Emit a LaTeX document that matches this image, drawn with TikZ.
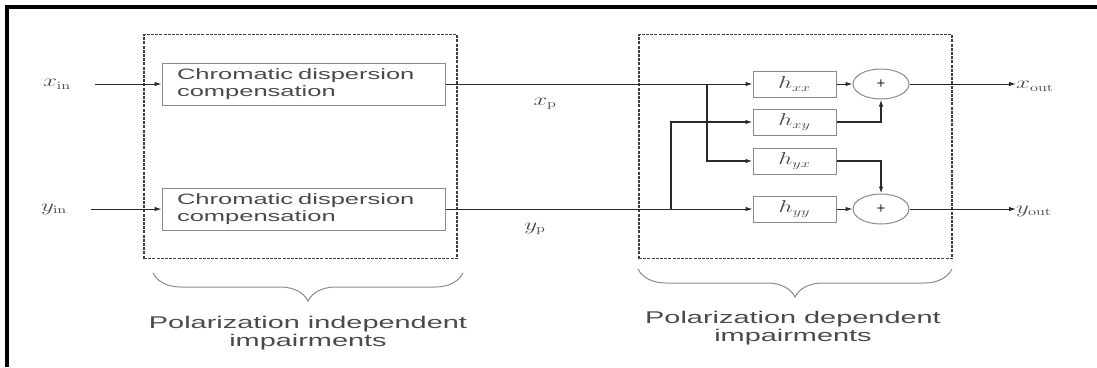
\documentclass[tikz,border=0pt]{standalone}
\usepackage{amsmath}
\usepackage[no-math]{fontspec}
\setmainfont{Liberation Sans}
\newfontfamily\widesans[FakeStretch=1.7]{Liberation Sans}
\usepackage{graphicx}
\usetikzlibrary{arrows.meta,shapes.geometric,decorations.pathreplacing}
\definecolor{wire}{HTML}{2A2A2A}
\definecolor{frame}{HTML}{8A8A8A}
\definecolor{ink}{HTML}{4A4A4A}
\newcommand{\wmath}[1]{\scalebox{1.45}[1]{$#1$}}

\begin{document}
\begin{tikzpicture}[
  x=1pt,y=-1pt,
  sig/.style={draw=wire,line width=1pt},
  arr/.style={sig,-{Latex[length=7pt,width=4.5pt]}},
  cdblock/.style={draw=frame,line width=1pt,text width=253pt,inner xsep=15pt,minimum height=42pt,inner ysep=0pt,align=left,text=ink,font=\widesans\fontsize{15}{17}\selectfont},
  hblock/.style={draw=frame,line width=1pt,minimum width=83pt,minimum height=26pt,inner sep=0pt,text=ink,font=\fontsize{16}{18}\selectfont},
  adder/.style={ellipse,draw=frame,line width=1pt,minimum width=56pt,minimum height=30pt,inner sep=0pt,text=wire,font=\fontsize{15}{16}\selectfont},
  region/.style={draw=wire!90,line width=1.1pt,dash pattern=on 3pt off 1.2pt,minimum width=313pt,minimum height=224pt,inner sep=0pt},
  sigl/.style={text=ink,inner sep=0pt,font=\fontsize{16}{18}\selectfont},
  caption/.style={text=ink,align=center,inner sep=0pt,font=\widesans\fontsize{17}{17.5}\selectfont},
  curly/.style={draw=frame,line width=1pt,decorate,decoration={brace,amplitude=28pt}}
]
  \useasboundingbox (0,0) rectangle (1097,367);
  \draw[line width=4pt,line join=miter] (7,367) -- (7,7) -- (1097,7);

  \node[region] (pib) at (300.5,146.5) {};
  \node[region] (pdb) at (795.5,146.5) {};

  \node[sigl] (xin) at (57,84) {\wmath{x_{\mathrm{in}}}};
  \node[sigl] (yin) at (54,209) {\wmath{y_{\mathrm{in}}}};
  \node[cdblock] (cdx) at (303.5,84) {Chromatic dispersion\\compensation};
  \node[cdblock] (cdy) at (303.5,209) {Chromatic dispersion\\compensation};
  \node[sigl] (xp) at (545,104) {\wmath{x_{\mathrm{p}}}};
  \node[sigl] (yp) at (535,229) {\wmath{y_{\mathrm{p}}}};

  \node[hblock] (hxx) at (794.5,84) {\wmath{h_{xx}}};
  \node[hblock] (hxy) at (794.5,122) {\wmath{h_{xy}}};
  \node[hblock] (hyx) at (794.5,161) {\wmath{h_{yx}}};
  \node[hblock] (hyy) at (794.5,209) {\wmath{h_{yy}}};
  \node[adder] (sumx) at (881,84) {+};
  \node[adder] (sumy) at (881,209) {+};
  \node[sigl,anchor=west] (xout) at (1016,86) {\wmath{x_{\mathrm{out}}}};
  \node[sigl,anchor=west] (yout) at (1016,211) {\wmath{y_{\mathrm{out}}}};
  \coordinate (bx) at (707,84);
  \coordinate (by) at (671,209);

  \draw[arr,shorten <=24pt] (xin.east) -- (cdx.west);
  \draw[arr,shorten <=24pt] (yin.east) -- (cdy.west);
  \draw[arr] (cdx.east) -- (hxx.west);
  \draw[arr] (cdy.east) -- (hyy.west);
  \draw[arr,line width=1.3pt] (bx) |- (hyx.west);
  \draw[arr,line width=1.3pt] (by) |- (hxy.west);
  \draw[arr] (hxx.east) -- (sumx.west);
  \draw[arr] (hyy.east) -- (sumy.west);
  \draw[arr,line width=1.3pt] (hxy.east) -| (sumx.south);
  \draw[arr,line width=1.3pt] (hyx.east) -| (sumy.north);
  \draw[arr] (sumx.east) -- (xout.west |- sumx.east);
  \draw[arr] (sumy.east) -- (yout.west |- sumy.east);

  \draw[curly] (463,273) -- (153,273);
  \draw[curly] (952,269) -- (638,269);
  \node[caption] (pil) at (308,333) {Polarization independent\\impairments};
  \node[caption] (pdl) at (793,328) {Polarization dependent\\impairments};
\end{tikzpicture}
\end{document}
